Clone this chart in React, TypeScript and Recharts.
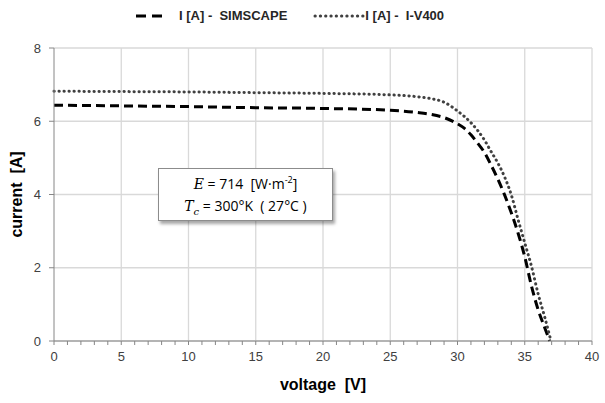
import React from 'react';
import { LineChart, Line, XAxis, YAxis, CartesianGrid, ReferenceLine, Legend } from 'recharts';

// SIMSCAPE model curve
const simscapeV = [0, 5, 10, 15, 20, 25, 27, 28, 29, 30, 30.5, 31, 31.5, 32, 32.5, 33, 33.5, 34, 34.5, 35, 35.5, 36, 36.5, 36.85];
const simscapeI = [6.44, 6.42, 6.4, 6.37, 6.35, 6.3, 6.24, 6.19, 6.1, 5.93, 5.81, 5.63, 5.4, 5.15, 4.8, 4.42, 3.99, 3.5, 2.95, 2.3, 1.5, 0.85, 0.35, 0];

// I-V400 measured curve
const iv400V = [0, 5, 10, 15, 20, 25, 27, 28, 29, 30, 31, 32, 32.5, 33, 33.5, 34, 34.5, 35, 35.5, 36, 36.5, 36.95];
const iv400I = [6.82, 6.81, 6.8, 6.78, 6.76, 6.72, 6.67, 6.62, 6.52, 6.28, 5.96, 5.49, 5.17, 4.86, 4.48, 3.99, 3.32, 2.68, 2.04, 1.28, 0.63, 0];

const xMinorTicks = Array.from({ length: 41 }, (_, i) => i);
const xMajorTicks = [5, 10, 15, 20, 25, 30, 35, 40];
const yTicks = [0, 2, 4, 6, 8];

const simscapeData = simscapeV.map((v, i) => ({ v, i: simscapeI[i] }));
const iv400Data = iv400V.map((v, i) => ({ v, i: iv400I[i] }));

const FONT = '"Liberation Sans", Arial, sans-serif';
const AXIS = '#868686';
const GRID = '#d9d9d9';
const NB = '\u00a0';

const LegendContent = () => (
  <div style={{ height: 44, position: 'relative', fontFamily: FONT, fontWeight: 700, fontSize: 13, color: '#262626' }}>
    <div style={{ position: 'absolute', left: 136, top: 4, display: 'flex', alignItems: 'center', whiteSpace: 'pre' }}>
      <svg width={32} height={10}><line x1={0} y1={5} x2={32} y2={5} stroke="#000" strokeWidth={3} strokeDasharray="10 6" /></svg>
      <span style={{ marginLeft: 11 }}>{'I [A] -  SIMSCAPE'}</span>
      <svg width={52} height={10} style={{ marginLeft: 26 }}><line x1={2} y1={5} x2={52} y2={5} stroke="#404040" strokeWidth={3} strokeLinecap="round" strokeDasharray="0.3 5" /></svg>
      <span>{'I [A] -  I-V400'}</span>
    </div>
  </div>
);

export default function App() {
  return (
    <div style={{ position: 'absolute', left: 0, top: 0, width: 605, height: 403, background: '#fff' }}>
      <LineChart width={605} height={403} margin={{ top: 4, right: 13, bottom: 0, left: 0 }}>
        <CartesianGrid vertical={false} stroke={GRID} strokeWidth={1.3} />
        {xMajorTicks.map(t => (
          <ReferenceLine key={t} x={t} stroke={GRID} strokeWidth={1.3} />
        ))}
        <XAxis
          type="number"
          dataKey="v"
          domain={[0, 40]}
          ticks={xMinorTicks}
          interval={0}
          tickFormatter={(t: number) => (t % 5 === 0 ? String(t) : '')}
          tickSize={4}
          tickMargin={7}
          stroke={AXIS}
          tick={{ fill: '#404040', fontSize: 13, fontFamily: FONT }}
          height={62}
          label={{ value: `voltage${NB}${NB}[V]`, position: 'insideBottom', offset: 13, style: { fontFamily: FONT, fontWeight: 700, fontSize: 16, fill: '#000' } }}
        />
        <YAxis
          type="number"
          domain={[0, 8]}
          ticks={yTicks}
          tickSize={5}
          tickMargin={8}
          stroke={AXIS}
          width={54}
          tick={{ fill: '#404040', fontSize: 13, fontFamily: FONT }}
          label={{ value: `current${NB}${NB}[A]`, angle: -90, position: 'insideLeft', offset: 16, style: { textAnchor: 'middle', fontFamily: FONT, fontWeight: 700, fontSize: 16, fill: '#000' } }}
        />
        <Legend verticalAlign="top" content={<LegendContent />} />
        <Line
          data={simscapeData}
          dataKey="i"
          name="I [A] -  SIMSCAPE"
          type="monotone"
          stroke="#000"
          strokeWidth={3}
          strokeDasharray="9 5"
          dot={false}
          isAnimationActive={false}
        />
        <Line
          data={iv400Data}
          dataKey="i"
          name="I [A] -  I-V400"
          type="monotone"
          stroke="#404040"
          strokeWidth={3}
          strokeLinecap="round"
          strokeDasharray="0.3 4.7"
          dot={false}
          isAnimationActive={false}
        />
      </LineChart>
      <div
        style={{
          position: 'absolute', left: 158, top: 168, width: 175, height: 53, boxSizing: 'border-box',
          border: '1px solid #8c8c8c', background: '#fff', boxShadow: '2px 3px 3px rgba(0,0,0,0.35)',
          fontFamily: '"Open Sans", "Noto Sans", sans-serif', fontSize: 14, color: '#000',
          display: 'flex', flexDirection: 'column', alignItems: 'center', justifyContent: 'center', lineHeight: '22px', whiteSpace: 'pre',
        }}
      >
        <div>
          <span style={{ fontFamily: '"DejaVu Serif", serif', fontStyle: 'italic' }}>E</span>{' = 714  [W·m'}<sup style={{ fontSize: 9, lineHeight: 0 }}>-2</sup>{']'}
        </div>
        <div>
          <span style={{ fontFamily: '"DejaVu Serif", serif', fontStyle: 'italic' }}>T</span>
          <sub style={{ fontFamily: '"DejaVu Serif", serif', fontStyle: 'italic', fontSize: 10, lineHeight: 0 }}>c</sub>
          {' = 300°K  ( 27°C )'}
        </div>
      </div>
    </div>
  );
}
